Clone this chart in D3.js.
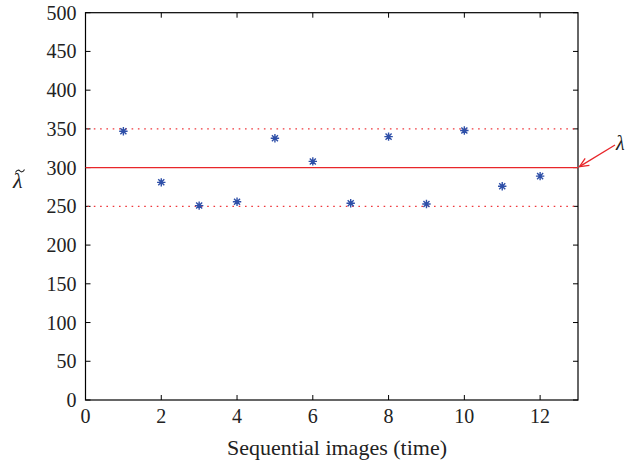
<!DOCTYPE html>
<html><head><meta charset="utf-8">
<script src="https://cdn.jsdelivr.net/npm/d3@7"></script>
<style>body{margin:0;background:#fff}svg{display:block}text{font-family:"Liberation Serif","Times New Roman",serif;fill:#222}</style>
</head><body><svg id="c" width="626" height="462"></svg>
<script>
const xValues = [1,2,3,4,5,6,7,8,9,10,11,12];
const lambdaEst = [347,281,251,256,338,308,254,340,253,348,276,289];
const lambdaTrue = 300;
const bounds = [250,350];
const xTicks = [0,2,4,6,8,10,12];
const yTicks = [0,50,100,150,200,250,300,350,400,450,500];
const xTitle = "Sequential images (time)";
const refLabel = "λ";
const yLabel = "λ";

const svg = d3.select("#c");
const L=85.5, R=578, T=12.7, B=400;
const x = d3.scaleLinear().domain([0,13]).range([L,R]);
const y = d3.scaleLinear().domain([0,500]).range([B,T]);
const fs = 20;

// box
svg.append("rect").attr("x",L).attr("y",T).attr("width",R-L).attr("height",B-T)
  .attr("fill","none").attr("stroke","#000").attr("stroke-width",1.2);

// ticks inward
const tl = 5;
const g = svg.append("g").attr("stroke","#000").attr("stroke-width",1);
xTicks.forEach(v=>{
  g.append("line").attr("x1",x(v)).attr("x2",x(v)).attr("y1",B).attr("y2",B-tl);
  g.append("line").attr("x1",x(v)).attr("x2",x(v)).attr("y1",T).attr("y2",T+tl);
});
yTicks.forEach(v=>{
  g.append("line").attr("x1",L).attr("x2",L+tl).attr("y1",y(v)).attr("y2",y(v));
  g.append("line").attr("x1",R).attr("x2",R-tl).attr("y1",y(v)).attr("y2",y(v));
});

// tick labels
svg.append("g").selectAll("text").data(xTicks).join("text")
  .attr("x",d=>x(d)).attr("y",B+23).attr("text-anchor","middle").attr("font-size",fs).text(d=>d);
svg.append("g").selectAll("text").data(yTicks).join("text")
  .attr("x",L-9).attr("y",d=>y(d)+7).attr("text-anchor","end").attr("font-size",fs).text(d=>d);

// reference lines
svg.append("line").attr("x1",L).attr("x2",R).attr("y1",y(lambdaTrue)).attr("y2",y(lambdaTrue))
  .attr("stroke","#e8262a").attr("stroke-width",1.3);
bounds.forEach(b=>{
  svg.append("line").attr("x1",L+2).attr("x2",R).attr("y1",y(b)).attr("y2",y(b))
    .attr("stroke","#f0383c").attr("stroke-width",1.3).attr("stroke-dasharray","1.6,4.7");
});

// asterisk markers
const s = 4.2;
const mk = svg.append("g").attr("stroke","#2e4fa8").attr("stroke-width",1.4).attr("fill","none");
xValues.forEach((xv,i)=>{
  const cx=x(xv), cy=y(lambdaEst[i]);
  const d = s*0.72;
  mk.append("path").attr("d",
    `M${cx-s},${cy}H${cx+s}M${cx},${cy-s}V${cy+s}M${cx-d},${cy-d}L${cx+d},${cy+d}M${cx-d},${cy+d}L${cx+d},${cy-d}`);
});

// arrow to true lambda
const ax1=R+1.5, ay1=y(lambdaTrue)-1, ax2=615, ay2=145;
svg.append("line").attr("x1",ax1).attr("y1",ay1).attr("x2",ax2).attr("y2",ay2)
  .attr("stroke","#e8262a").attr("stroke-width",1.3);
const ang = Math.atan2(ay2-ay1, ax2-ax1);
const hl=10, ha=0.42;
svg.append("path").attr("d",
  `M${ax1+hl*Math.cos(ang+ha)},${ay1+hl*Math.sin(ang+ha)}L${ax1},${ay1}L${ax1+hl*Math.cos(ang-ha)},${ay1+hl*Math.sin(ang-ha)}`)
  .attr("stroke","#e8262a").attr("stroke-width",1.3).attr("fill","none");
svg.append("text").attr("x",616).attr("y",150).attr("font-size",20).attr("font-style","italic").text(refLabel);

// y label lambda with tilde accent drawn as a path
svg.append("text").attr("x",13).attr("y",188).attr("font-size",22).attr("font-style","italic").text(yLabel);
svg.append("path").attr("d","M15.5,172.5 C17,169.5 19,169.8 20,171 C21,172.2 23,172.5 24.5,169.5")
  .attr("fill","none").attr("stroke","#222").attr("stroke-width",1.1);

// x title
svg.append("text").attr("x",337).attr("y",455).attr("text-anchor","middle").attr("font-size",22).text(xTitle);
</script></body></html>
